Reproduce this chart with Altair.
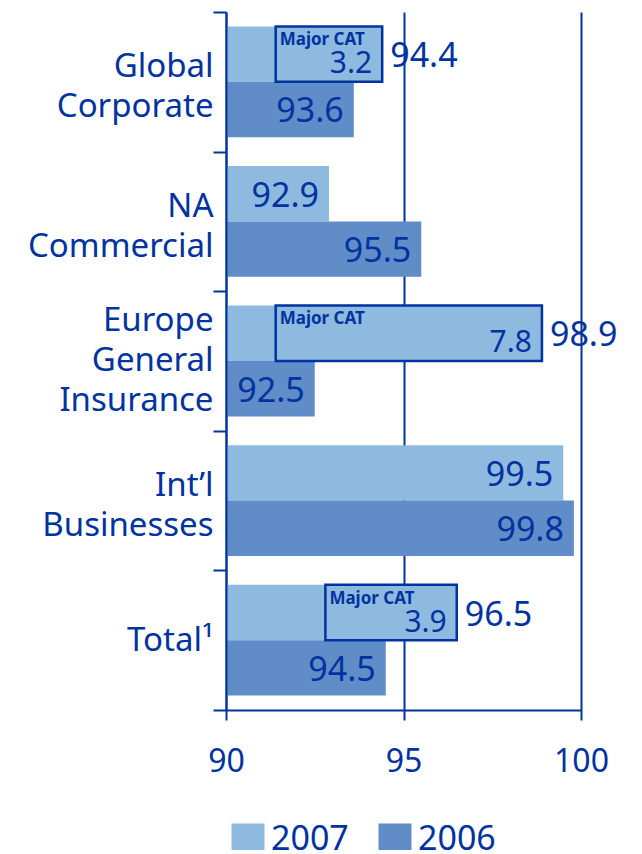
import altair as alt
import pandas as pd

# ---- data ----
categories = ["Global Corporate", "NA Commercial", "Europe General Insurance",
              "Int’l Businesses", "Total¹"]
years = ["2007", "2006"]
ratio_2007 = [94.4, 92.9, 98.9, 99.5, 96.5]
ratio_2006 = [93.6, 95.5, 92.5, 99.8, 94.5]
major_cat = [3.2, None, 7.8, None, 3.9]          # "Major CAT" portion of 2007 ratio
cat_box_start = [91.4, None, 91.4, None, 92.8]   # left edge of the Major CAT box
x_ticks = [90, 95, 100]

NAVY = "#0033a0"
LIGHT = "#8fbae0"
MID = "#608dc8"
FONT = "Noto Sans"

rows = []
for i, c in enumerate(categories):
    for yr, v in zip(years, [ratio_2007[i], ratio_2006[i]]):
        boxed = yr == "2007" and major_cat[i] is not None
        rows.append({
            "category": c,
            "year": yr,
            "value": v,
            "outside": boxed,
            "cat": major_cat[i] if boxed else None,
            "box_start": cat_box_start[i] if boxed else None,
        })
df = pd.DataFrame(rows)

xs = alt.Scale(domain=[90, 100], nice=False, zero=False)

# centre multi-line labels on the band
label_shift = {
    "condition": [
        {"test": "length(split(datum.label, ' ')) == 3", "value": -41},
        {"test": "length(split(datum.label, ' ')) == 2", "value": -15},
    ],
    "value": 0,
}

base = alt.Chart(df).encode(
    y=alt.Y("category:N", sort=categories,
            scale=alt.Scale(paddingInner=0, paddingOuter=0),
            axis=alt.Axis(title=None, labelExpr="split(datum.label, ' ')",
                          labelFont=FONT, labelFontSize=33, labelColor=NAVY,
                          labelLineHeight=40, labelPadding=0, labelBaseline="middle",
                          labelOffset=label_shift, labelLimit=260,
                          tickBand="extent", tickSize=13, tickWidth=2, tickColor=NAVY,
                          domainColor=NAVY, domainWidth=2, zindex=1)),
    yOffset=alt.YOffset("year:N", sort=years,
                        scale=alt.Scale(paddingInner=0, paddingOuter=0.26)),
)

bars = base.mark_bar().encode(
    x=alt.X("value:Q", scale=xs,
            axis=alt.Axis(title=None, values=x_ticks, grid=True, gridColor=NAVY,
                          gridWidth=2, gridOpacity=1, tickSize=10, tickWidth=2,
                          tickColor=NAVY, domainColor=NAVY, domainWidth=2,
                          labelFont=FONT, labelFontSize=32, labelColor=NAVY,
                          labelPadding=26, labelFlush=False, zindex=0)),
    x2=alt.datum(90),
    color=alt.Color("year:N",
                    scale=alt.Scale(domain=years, range=[LIGHT, MID]),
                    legend=alt.Legend(title=None, orient="none", legendX=5, legendY=811,
                                      direction="horizontal", symbolType="square",
                                      symbolSize=1089, symbolStrokeWidth=0,
                                      labelFont=FONT, labelFontSize=34, labelColor=NAVY,
                                      labelOffset=6, columnPadding=29)),
)

boxes = base.transform_filter("isValid(datum.cat)").mark_rect(
    fill=LIGHT, stroke=NAVY, strokeWidth=2.5
).encode(x="box_start:Q", x2="value:Q")

cat_title = base.transform_filter("isValid(datum.cat)").mark_text(
    align="left", baseline="alphabetic", dx=4, dy=-9, fontSize=17,
    fontWeight="bold", font=FONT, color=NAVY, text="Major CAT"
).encode(x="box_start:Q")

cat_value = base.transform_filter("isValid(datum.cat)").mark_text(
    align="right", baseline="alphabetic", dx=-10, dy=19, fontSize=30,
    font=FONT, color=NAVY
).encode(x="value:Q", text=alt.Text("cat:Q", format=".1f"))

inside = base.transform_filter("!datum.outside").mark_text(
    align="right", baseline="alphabetic", dx=-10, dy=13, fontSize=34,
    font=FONT, color=NAVY
).encode(x="value:Q", text=alt.Text("value:Q", format=".1f"))

outside = base.transform_filter("datum.outside").mark_text(
    align="left", baseline="alphabetic", dx=8, dy=13, fontSize=34,
    font=FONT, color=NAVY
).encode(x="value:Q", text=alt.Text("value:Q", format=".1f"))

chart = alt.layer(bars, boxes, cat_title, cat_value, inside, outside).properties(
    width=355, height=698,
    autosize=alt.AutoSizeParams(type="none"),
    padding={"left": 218, "top": 4, "right": 48, "bottom": 140},
).configure_view(stroke=None)

chart.save("out.html", embed_options={"renderer": "svg", "actions": False})
